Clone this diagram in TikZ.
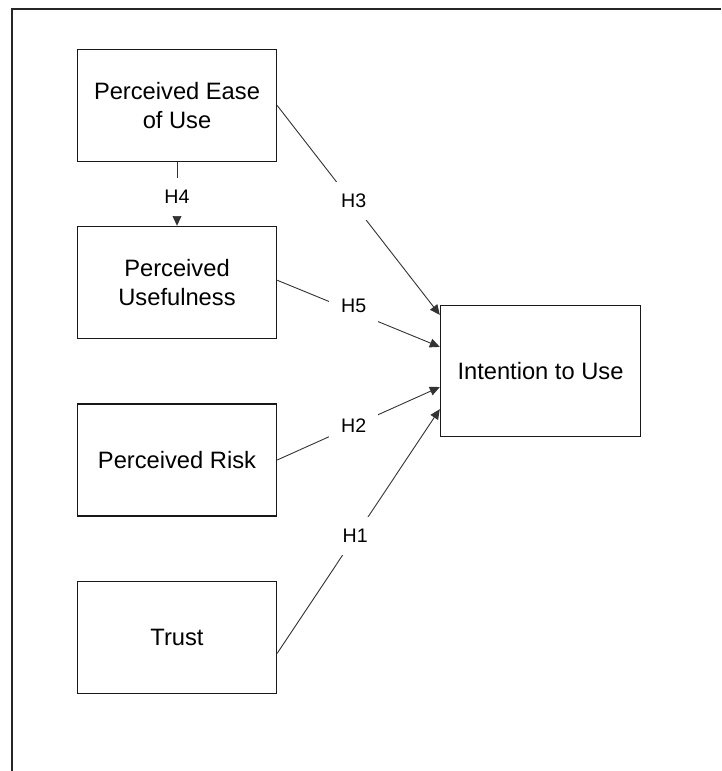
\documentclass[tikz,border=0pt]{standalone}
\usepackage{fontspec}
\setmainfont{Liberation Sans}
\usetikzlibrary{arrows.meta,calc}
\begin{document}
\begin{tikzpicture}[x=1pt,y=-1pt,
  box/.style={draw=black!90, line width=1.4pt, minimum width=199pt, minimum height=112pt, inner sep=0pt, align=center, font=\fontsize{23.7}{28.5}\selectfont},
  conn/.style={draw=black!80, line width=0.9pt},
  arr/.style={conn, -{Triangle[length=10pt,width=9pt]}},
  lbl/.style={fill=white, inner sep=12pt, font=\fontsize{19.6}{22}\selectfont}]
\useasboundingbox (0,0) rectangle (721,771);
\draw[line width=2pt, black!85] (12,771) -- (12,9) -- (721,9);

\node[box] (peou) at (177,105.5) {Perceived Ease\\of Use};
\node[box] (pu) at (177,282.5) {Perceived\\Usefulness};
\node[box] (pr) at (177,460) {Perceived Risk};
\node[box] (trust) at (177,637.5) {Trust};
\node[box, minimum width=200pt, minimum height=131pt] (itu) at (540.5,371) {Intention to Use};

\coordinate (e3) at ($(itu.north west)!0.076!(itu.south west)$);
\coordinate (e5) at ($(itu.north west)!0.318!(itu.south west)$);
\coordinate (e2) at ($(itu.north west)!0.621!(itu.south west)$);
\coordinate (e1) at ($(itu.north west)!0.788!(itu.south west)$);
\coordinate (s5) at ($(pu.north east)!0.48!(pu.south east)$);
\coordinate (s1) at ($(trust.north east)!0.64!(trust.south east)$);

\draw[arr] (peou.south) -- node[lbl, pos=0.55] {H4} (pu.north);
\draw[arr] (peou.east) -- node[lbl, pos=0.47, yshift=3pt] {H3} (e3);
\draw[arr] (s5) -- node[lbl, pos=0.47, yshift=6pt] {H5} (e5);
\draw[arr] (pr.east) -- node[lbl, pos=0.47] {H2} (e2);
\draw[arr] (s1) -- node[lbl, pos=0.48] {H1} (e1);
\end{tikzpicture}
\end{document}
